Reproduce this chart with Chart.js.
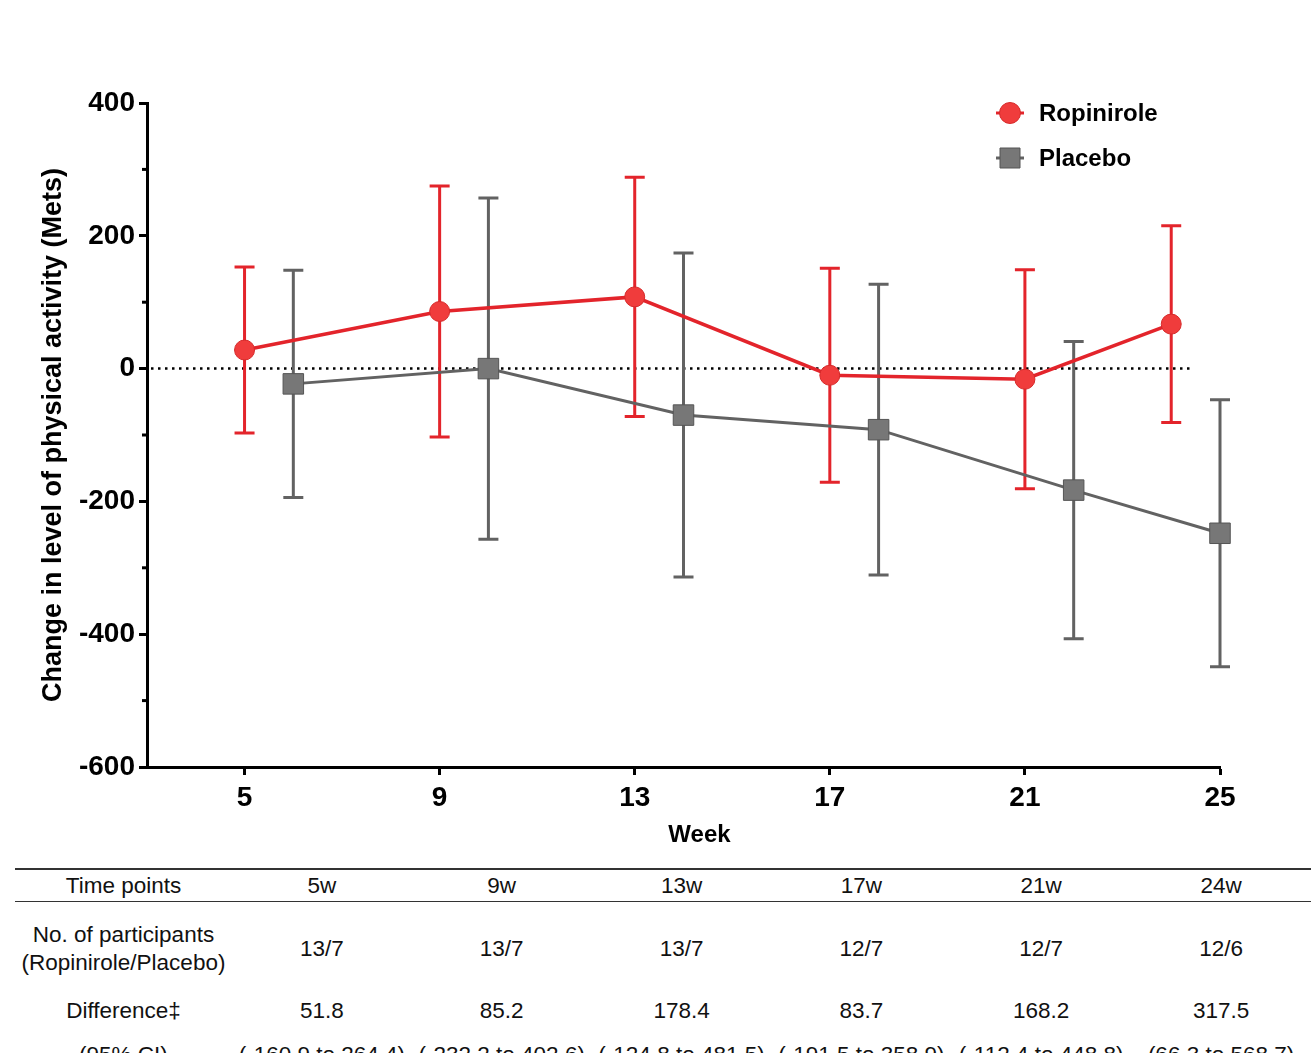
<!DOCTYPE html>
<html>
<head>
<meta charset="utf-8">
<script src="https://cdn.jsdelivr.net/npm/chart.js@4.4.1/dist/chart.umd.min.js"></script>
<style>
  body { margin:0; background:#fff; width:1311px; height:1053px; overflow:hidden; position:relative;
         font-family:"Liberation Sans", Arial, Helvetica, sans-serif; }
  #chart-wrap { position:absolute; left:0; top:0; width:1311px; height:860px; }
  #tbl { position:absolute; left:15px; top:868px; border-collapse:collapse; table-layout:fixed; color:#111; font-size:22.5px; }
  #tbl td { padding:0; text-align:center; vertical-align:middle; line-height:28px; }
  #tbl tr.head td { height:31px; border-top:2px solid #333; border-bottom:1.5px solid #333; }
  #tbl tr.n td { height:94px; }
  #tbl tr.d td { height:30px; }
  #tbl tr.ci td { height:58px; }
</style>
</head>
<body>
<div id="chart-wrap"><canvas id="chart-activity" width="1311" height="860"></canvas></div>
<table id="tbl"></table>
<script>
// 数据
var weeksRop = [5, 9, 13, 17, 21, 24];
var weeksPla = [6, 10, 14, 18, 22, 25];
var ropMean = [28, 86, 108, -10, -16, 67];
var ropErr  = [125, 189, 180, 161, 165, 148];
var plaMean = [-23, 0, -70, -92, -183, -248];
var plaErr  = [171, 257, 244, 219, 224, 201];
var xTicks = [5, 9, 13, 17, 21, 25];
var yTicks = [400, 200, 0, -200, -400, -600];
var yMinor = [300, 100, -100, -300, -500];

// 表格
var rowLabels = ['Time points', 'No. of participants<br>(Ropinirole/Placebo)', 'Difference\u2021', '(95% CI)'];
var timePoints = ['5w', '9w', '13w', '17w', '21w', '24w'];
var participants = ['13/7', '13/7', '13/7', '12/7', '12/7', '12/6'];
var difference = ['51.8', '85.2', '178.4', '83.7', '168.2', '317.5'];
var ci95 = ['(-160.9 to 264.4)', '(-232.2 to 402.6)', '(-124.8 to 481.5)', '(-191.5 to 358.9)', '(-112.4 to 448.8)', '(66.3 to 568.7)'];

var RED = '#e3242b', RED_FILL = '#f03c3c';
var GRAY = '#626262', GRAY_FILL = '#777777';
var FONT = '"Liberation Sans", Arial, Helvetica, sans-serif';

var activity = {
  canvas: null,
  // 误差线、零线、图例、横轴标题
  extras: {
    id: 'extras',
    beforeDatasetsDraw: function(chart) {
      var ctx = chart.ctx, xs = chart.scales.x, ys = chart.scales.y, area = chart.chartArea;
      ctx.save();
      // 零线
      ctx.strokeStyle = '#000';
      ctx.lineWidth = 2.5;
      ctx.setLineDash([2.5, 4.5]);
      ctx.beginPath();
      ctx.moveTo(area.left + 4, ys.getPixelForValue(0));
      ctx.lineTo(xs.getPixelForValue(24.4), ys.getPixelForValue(0));
      ctx.stroke();
      ctx.setLineDash([]);
      // 次刻度
      ctx.lineWidth = 3;
      yMinor.forEach(function(v) {
        var py = ys.getPixelForValue(v);
        ctx.beginPath();
        ctx.moveTo(area.left - 5, py);
        ctx.lineTo(area.left, py);
        ctx.stroke();
      });
      // 误差线（先画安慰剂组）
      [1, 0].forEach(function(i) {
        var ds = chart.data.datasets[i];
        var errs = i === 0 ? ropErr : plaErr;
        ctx.strokeStyle = ds.borderColor;
        ctx.lineWidth = 3;
        ds.data.forEach(function(p, k) {
          var px = xs.getPixelForValue(p.x);
          var top = ys.getPixelForValue(p.y + errs[k]);
          var bot = ys.getPixelForValue(p.y - errs[k]);
          ctx.beginPath();
          ctx.moveTo(px, top); ctx.lineTo(px, bot);
          ctx.moveTo(px - 10, top); ctx.lineTo(px + 10, top);
          ctx.moveTo(px - 10, bot); ctx.lineTo(px + 10, bot);
          ctx.stroke();
        });
      });
      ctx.restore();
    },
    afterDraw: function(chart) {
      var ctx = chart.ctx, area = chart.chartArea;
      ctx.save();
      chart.data.datasets.forEach(function(ds, i) {
        var cy = 113 + i * 45, cx = 1010;
        ctx.strokeStyle = ds.borderColor;
        ctx.lineWidth = 3;
        ctx.beginPath();
        ctx.moveTo(cx - 14, cy); ctx.lineTo(cx + 14, cy);
        ctx.stroke();
        ctx.fillStyle = ds.pointBackgroundColor;
        ctx.strokeStyle = ds.pointBorderColor;
        ctx.lineWidth = 1;
        ctx.beginPath();
        if (ds.pointStyle === 'rect') {
          ctx.rect(cx - 10, cy - 10, 20, 20);
        } else {
          ctx.arc(cx, cy, 10.5, 0, Math.PI * 2);
        }
        ctx.fill(); ctx.stroke();
        ctx.fillStyle = '#000';
        ctx.font = 'bold 24px ' + FONT;
        ctx.textBaseline = 'middle';
        ctx.fillText(ds.label, 1039, cy + 1);
      });
      // 横轴标题
      ctx.font = 'bold 24px ' + FONT;
      ctx.textAlign = 'center';
      ctx.textBaseline = 'middle';
      ctx.fillText('Week', (area.left + area.right) / 2 + 16, 835);
      ctx.restore();
    }
  },
  init: function() {
    activity.canvas = document.getElementById('chart-activity').getContext('2d');
  },
  refresh: function() {
    Chart.defaults.font.family = FONT;
    new Chart(activity.canvas, {
      type: 'line',
      data: {
        datasets: [{
          label: 'Ropinirole',
          data: weeksRop.map(function(w, i) { return { x: w, y: ropMean[i] }; }),
          borderColor: RED, borderWidth: 3.5, clip: false,
          pointStyle: 'circle', pointRadius: 10, pointBackgroundColor: RED_FILL, pointBorderColor: '#d62a2a', pointBorderWidth: 1
        }, {
          label: 'Placebo',
          data: weeksPla.map(function(w, i) { return { x: w, y: plaMean[i] }; }),
          borderColor: GRAY, borderWidth: 3, clip: false,
          pointStyle: 'rect', pointRadius: 14.5, pointBackgroundColor: GRAY_FILL, pointBorderColor: '#555', pointBorderWidth: 1
        }]
      },
      options: {
        responsive: false,
        animation: false,
        layout: { padding: { top: 103, right: 91, left: 0, bottom: 0 } },
        plugins: { legend: { display: false }, tooltip: { enabled: false } },
        scales: {
          x: {
            type: 'linear', min: 3, max: 25,
            afterBuildTicks: function(s) { s.ticks = xTicks.map(function(v) { return { value: v }; }); },
            afterFit: function(s) { s.height = 93; },
            grid: { drawOnChartArea: false, drawTicks: true, tickLength: 8, tickWidth: 3, tickColor: '#000' },
            border: { color: '#000', width: 3 },
            ticks: { color: '#000', font: { size: 28, weight: 'bold' }, padding: 6, maxRotation: 0 },
            title: { display: false }
          },
          y: {
            min: -600, max: 400,
            afterBuildTicks: function(s) { s.ticks = yTicks.map(function(v) { return { value: v }; }); },
            afterFit: function(s) { s.width = 147; },
            grid: { drawOnChartArea: false, drawTicks: true, tickLength: 8, tickWidth: 3, tickColor: '#000' },
            border: { color: '#000', width: 3 },
            ticks: { color: '#000', font: { size: 28, weight: 'bold' }, padding: 4 },
            title: { display: true, text: 'Change in level of physical activity (Mets)', color: '#000', font: { size: 27, weight: 'bold' }, padding: { top: 37, bottom: 0 } }
          }
        }
      },
      plugins: [activity.extras]
    });
  }
};

function buildTable() {
  var rows = [['head', timePoints], ['n', participants], ['d', difference], ['ci', ci95]];
  var html = '<colgroup><col style="width:217px">' + timePoints.map(function() { return '<col style="width:180px">'; }).join('') + '</colgroup>';
  rows.forEach(function(r, i) {
    html += '<tr class="' + r[0] + '"><td>' + rowLabels[i] + '</td>' + r[1].map(function(v) { return '<td>' + v + '</td>'; }).join('') + '</tr>';
  });
  document.getElementById('tbl').innerHTML = html;
}

activity.init();
activity.refresh();
buildTable();
</script>
</body>
</html>
